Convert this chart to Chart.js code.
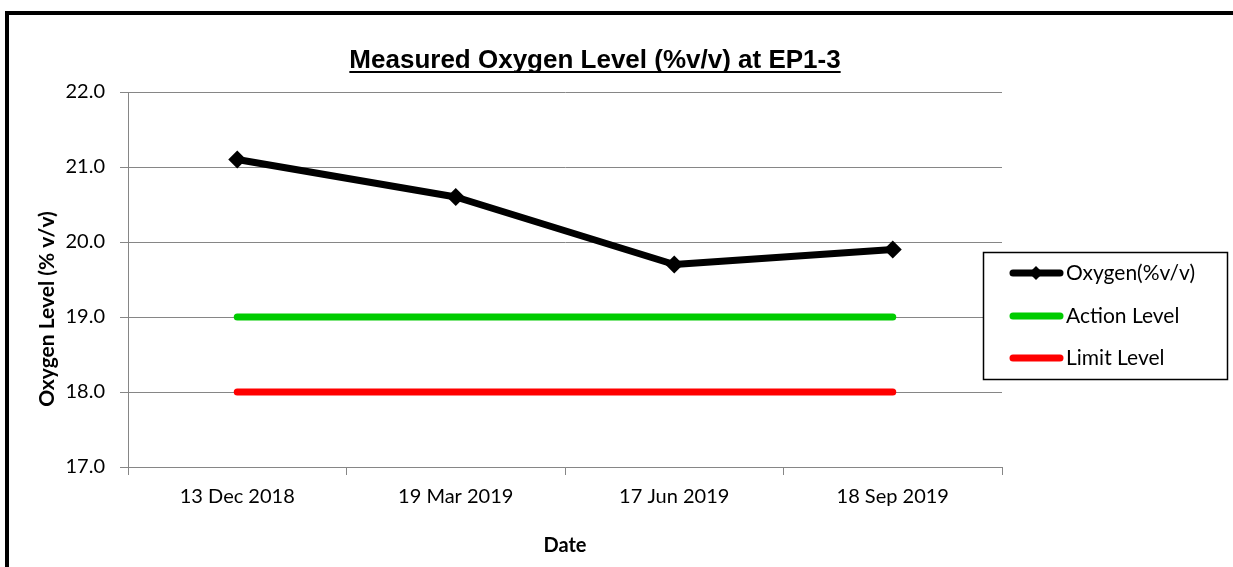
<!DOCTYPE html>
<html>
<head>
<meta charset="utf-8">
<script src="https://cdn.jsdelivr.net/npm/chart.js@4/dist/chart.umd.min.js"></script>
<style>
  html, body { margin: 0; padding: 0; background: #fff; overflow: hidden; }
  #wrap { position: relative; width: 1233px; height: 567px; }
  #c { position: absolute; left: 0; top: 0; }
  #frame { position: absolute; left: 5px; top: 11px; right: -20px; bottom: -20px; border: 4px solid #000; pointer-events: none; }
</style>
</head>
<body>
<div id="wrap">
  <canvas id="c" width="1233" height="567"></canvas>
  <div id="frame"></div>
</div>
<script>
const chartTitle = 'Measured Oxygen Level (%v/v) at EP1-3';
const xAxisTitle = 'Date';
const yAxisTitle = 'Oxygen Level (% v/v)';
const categories = ['13 Dec 2018', '19 Mar 2019', '17 Jun 2019', '18 Sep 2019'];
const oxygen = [21.1, 20.6, 19.7, 19.9];
const actionLevel = [19.0, 19.0, 19.0, 19.0];
const limitLevel = [18.0, 18.0, 18.0, 18.0];
const seriesNames = ['Oxygen(%v/v)', 'Action Level', 'Limit Level'];
const yMin = 17, yMax = 22, yStep = 1;

const TICK_FONT = 'Lato';
const GRID = '#868686';

const decor = {
  id: 'decor',
  afterDraw(chart) {
    const ctx = chart.ctx;
    ctx.save();
    // Title with underline
    ctx.font = 'bold 26px "Liberation Sans", Arial, sans-serif';
    ctx.fillStyle = '#000';
    ctx.textAlign = 'center';
    ctx.textBaseline = 'alphabetic';
    const tx = 595, ty = 68;
    ctx.fillText(chartTitle, tx, ty);
    const w = ctx.measureText(chartTitle).width;
    ctx.fillRect(tx - w / 2, ty + 3, w, 2);
    // Y axis title
    ctx.save();
    ctx.translate(47, 309);
    ctx.rotate(-Math.PI / 2);
    ctx.font = 'bold 21px ' + TICK_FONT;
    ctx.textAlign = 'center';
    ctx.textBaseline = 'middle';
    ctx.fillText(yAxisTitle, 0, 0);
    ctx.restore();
    // Legend
    const lx = 983, ly = 252, lw = 244, lh = 127;
    ctx.fillStyle = '#fff';
    ctx.fillRect(lx, ly, lw, lh);
    ctx.strokeStyle = '#000';
    ctx.lineWidth = 1.5;
    ctx.strokeRect(lx + 0.5, ly + 0.5, lw, lh);
    const rows = [273, 316, 358];
    chart.data.datasets.forEach((ds, i) => {
      const y = rows[i];
      ctx.strokeStyle = ds.borderColor;
      ctx.lineWidth = ds.borderWidth;
      ctx.lineCap = 'round';
      ctx.beginPath();
      ctx.moveTo(1013, y);
      ctx.lineTo(1060, y);
      ctx.stroke();
      if (ds.pointRadius > 0) {
        ctx.fillStyle = ds.borderColor;
        ctx.beginPath();
        const r = 7;
        ctx.moveTo(1036, y - r);
        ctx.lineTo(1036 + r, y);
        ctx.lineTo(1036, y + r);
        ctx.lineTo(1036 - r, y);
        ctx.closePath();
        ctx.fill();
      }
      ctx.fillStyle = '#000';
      ctx.font = '21px ' + TICK_FONT;
      ctx.textAlign = 'left';
      ctx.textBaseline = 'middle';
      ctx.fillText(ds.label, 1066, y);
    });
    ctx.restore();
  }
};

new Chart(document.getElementById('c'), {
  type: 'line',
  data: {
    labels: categories,
    datasets: [
      {
        label: seriesNames[0], data: oxygen,
        borderColor: '#000', backgroundColor: '#000',
        borderWidth: 7, pointStyle: 'rectRot', pointRadius: 9, pointHoverRadius: 9,
        pointBorderWidth: 0, tension: 0, borderJoinStyle: 'round'
      },
      {
        label: seriesNames[1], data: actionLevel,
        borderColor: '#00cc00', backgroundColor: '#00cc00',
        borderWidth: 7, pointRadius: 0, tension: 0, borderCapStyle: 'round'
      },
      {
        label: seriesNames[2], data: limitLevel,
        borderColor: '#ff0000', backgroundColor: '#ff0000',
        borderWidth: 7, pointRadius: 0, tension: 0, borderCapStyle: 'round'
      }
    ]
  },
  options: {
    responsive: false,
    animation: false,
    devicePixelRatio: 1,
    layout: { padding: { top: 92, left: 0, right: 231, bottom: 0 } },
    plugins: {
      legend: { display: false },
      title: { display: false },
      tooltip: { enabled: false }
    },
    scales: {
      x: {
        type: 'category',
        offset: true,
        grid: { display: true, drawOnChartArea: false, drawTicks: true, tickLength: 8, offset: true, color: GRID },
        border: { display: true, color: GRID, width: 1 },
        ticks: { color: '#000', font: { family: TICK_FONT, size: 20 }, padding: 10, maxRotation: 0 },
        title: { display: true, text: xAxisTitle, color: '#000', font: { family: TICK_FONT, size: 20, weight: 'bold' }, padding: { top: 0, bottom: 9 } },
        afterFit(s) { s.height = 100; }
      },
      y: {
        min: yMin, max: yMax,
        grid: { color: GRID, tickLength: 8, drawTicks: true },
        border: { display: true, color: GRID, width: 1 },
        ticks: { stepSize: yStep, color: '#000', font: { family: TICK_FONT, size: 20 }, padding: 15, callback: v => Number(v).toFixed(1) },
        afterFit(s) { s.width = 128; }
      }
    }
  },
  plugins: [decor]
});
</script>
</body>
</html>
